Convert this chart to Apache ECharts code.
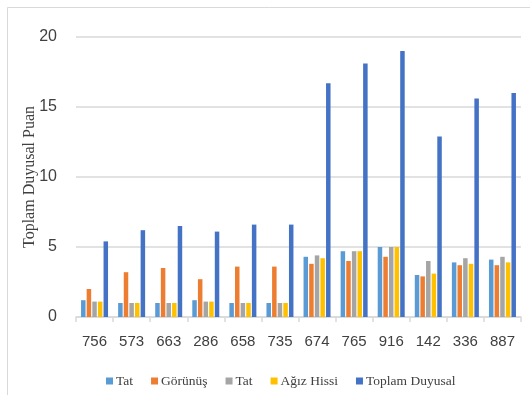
<!DOCTYPE html>
<html>
<head>
<meta charset="utf-8">
<script src="https://cdn.jsdelivr.net/npm/echarts@6/dist/echarts.min.js"></script>
<style>
  html, body { margin: 0; padding: 0; background: #fff; }
  #chart { width: 530px; height: 395px; }
</style>
</head>
<body>
<div id="chart"></div>
<script>
// Sample codes on the x axis
const categories = ['756', '573', '663', '286', '658', '735', '674', '765', '916', '142', '336', '887'];

// Sensory scores per sample
const tat1     = [1.2, 1.0, 1.0, 1.2, 1.0, 1.0, 4.3, 4.7, 5.0, 3.0, 3.9, 4.1];
const gorunus  = [2.0, 3.2, 3.5, 2.7, 3.6, 3.6, 3.8, 4.0, 4.3, 2.9, 3.7, 3.7];
const tat2     = [1.1, 1.0, 1.0, 1.1, 1.0, 1.0, 4.4, 4.7, 5.0, 4.0, 4.2, 4.3];
const agizHiss = [1.1, 1.0, 1.0, 1.1, 1.0, 1.0, 4.2, 4.7, 5.0, 3.1, 3.8, 3.9];
const toplam   = [5.4, 6.2, 6.5, 6.1, 6.6, 6.6, 16.7, 18.1, 19.0, 12.9, 15.6, 16.0];

// Y axis ticks
const yMin = 0, yMax = 20, yStep = 5;

const seriesDefs = [
  { name: 'Tat',            data: tat1,     color: '#5B9BD5' },
  { name: 'Görünüş',        data: gorunus,  color: '#ED7D31' },
  { name: 'Tat\u200B',      data: tat2,     color: '#A5A5A5' },
  { name: 'Ağız Hissi',     data: agizHiss, color: '#FFC000' },
  { name: 'Toplam Duyusal', data: toplam,   color: '#4472C4' }
];

const chart = echarts.init(document.getElementById('chart'), null, { renderer: 'canvas' });

const gridColor = '#d9d9d9';
const textColor = '#404040';
const tickFont = '"Liberation Sans Narrow", "Liberation Sans", sans-serif';

chart.setOption({
  animation: false,
  backgroundColor: '#fff',
  graphic: [{
    type: 'rect',
    shape: { x: 7.5, y: 7.5, width: 560, height: 420 },
    style: { fill: 'none', stroke: gridColor, lineWidth: 1 },
    silent: true,
    z: -1
  }],
  grid: { left: 76, right: 9, top: 37, bottom: 78 },
  legend: {
    left: 101,
    top: 369,
    itemWidth: 7,
    itemHeight: 7,
    itemGap: 18,
    icon: 'rect',
    textStyle: { fontFamily: '"Liberation Serif", serif', fontSize: 13.5, color: textColor, padding: [0, 0, 0, -2] },
    data: seriesDefs.map(s => s.name)
  },
  xAxis: {
    type: 'category',
    data: categories,
    axisLine: { lineStyle: { color: gridColor, width: 1.5 } },
    axisTick: { show: true, length: 5, interval: 0, lineStyle: { color: gridColor, width: 1.5 } },
    axisLabel: {
      margin: 17,
      color: textColor,
      fontFamily: tickFont,
      fontSize: 15
    }
  },
  yAxis: {
    type: 'value',
    min: yMin,
    max: yMax,
    interval: yStep,
    name: 'Toplam Duyusal Puan',
    nameLocation: 'middle',
    nameGap: 38,
    nameMoveOverlap: false,
    nameRotate: 90,
    nameTextStyle: {
      fontFamily: '"Liberation Serif", serif',
      fontSize: 16,
      fontWeight: 'normal',
      color: textColor
    },
    axisLine: { show: false },
    axisTick: { show: false },
    splitLine: { lineStyle: { color: gridColor, width: 1.5 } },
    axisLabel: {
      margin: 19,
      color: textColor,
      fontFamily: tickFont,
      fontSize: 16
    }
  },
  series: seriesDefs.map(s => ({
    type: 'bar',
    name: s.name,
    data: s.data,
    barWidth: 4.5,
    barGap: '25%',
    itemStyle: { color: s.color }
  }))
});
</script>
</body>
</html>
